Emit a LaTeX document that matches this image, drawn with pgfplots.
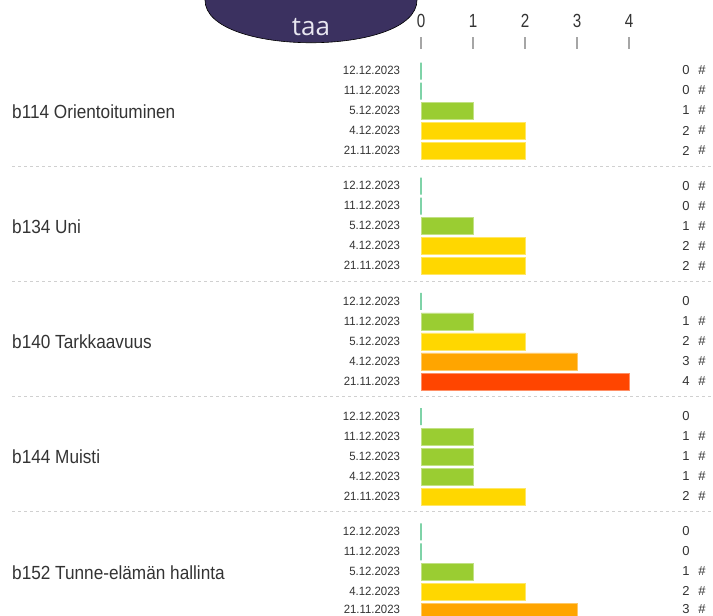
\documentclass[border=0pt]{standalone}
\usepackage{pgfplots}
\pgfplotsset{compat=1.18}
\usepackage{fontspec}
\setmainfont{Liberation Sans}
\newfontfamily\osans{Open Sans}
\definecolor{txt}{HTML}{333333}
\definecolor{zerocol}{HTML}{7FD3A8}
\definecolor{c1}{HTML}{9ACD32}
\definecolor{c2}{HTML}{FFD700}
\definecolor{c3}{HTML}{FFA500}
\definecolor{c4}{HTML}{FF4500}
\definecolor{blob}{HTML}{3B3160}
\definecolor{sep}{HTML}{D0D0D0}
\tikzset{
  datelbl/.style={anchor=east, font=\fontsize{12}{12}\selectfont, text=txt, xscale=0.95, inner sep=0pt},
  catlbl/.style={anchor=west, font=\fontsize{19}{19}\selectfont, text=txt, xscale=0.905, inner sep=0pt},
  vallbl/.style={anchor=east, font=\fontsize{13}{13}\selectfont, text=txt, inner sep=0pt},
  hashlbl/.style={anchor=west, font=\fontsize{13}{13}\selectfont, text=txt, inner sep=0pt},
  ticklbl/.style={anchor=center, font=\fontsize{19}{19}\selectfont, text=txt, xscale=0.8, inner sep=0pt},
}
\begin{document}
\begin{tikzpicture}
\begin{axis}[
  at={(0,0)}, anchor=south west,
  scale only axis, width=713pt, height=616pt,
  xmin=-8.096, xmax=5.615, ymin=0, ymax=616, y dir=reverse,
  axis lines=none, clip=true,
  xbar, bar width=17pt, bar shift=0pt,
]
% value 0
\addplot[draw=zerocol, line width=2pt, fill=none] coordinates {
 (0,71) (0,91) (0,186.2) (0,206.2) (0,301.4) (0,416.6) (0,531.8) (0,551.8)};
% value 1
\addplot[fill=c1, draw=c1!60!white, line width=0.8pt] coordinates {
 (1,111) (1,226.2) (1,321.4) (1,436.6) (1,456.6) (1,476.6) (1,571.8)};
% value 2
\addplot[fill=c2, draw=c2!60!white, line width=0.8pt] coordinates {
 (2,131) (2,151) (2,246.2) (2,266.2) (2,341.4) (2,496.6) (2,591.8)};
% value 3
\addplot[fill=c3, draw=c3!60!white, line width=0.8pt] coordinates {
 (3,361.4) (3,611.8)};
% value 4
\addplot[fill=c4, draw=c4!60!white, line width=0.8pt] coordinates {
 (4,381.4)};

% dark blob at top
\filldraw[fill=blob, draw=black, line width=0.6pt]
  (axis cs:-4.154,-10) -- (axis cs:-4.154,0)
  .. controls (axis cs:-4.154,57) and (axis cs:-0.077,57) .. (axis cs:-0.077,0)
  -- (axis cs:-0.077,-10) -- cycle;
\node[text={rgb,255:red,232;green,230;blue,240}, font=\osans\fontsize{26}{26}\selectfont, anchor=base] at (axis cs:-2.115,35) {taa};

% top ticks
\foreach \t in {0,1,2,3,4}{
  \edef\tmp{\noexpand\node[ticklbl] at (axis cs:\t,21) {\t};
  \noexpand\draw[gray!70, line width=1.1pt] (axis cs:\t,37) -- (axis cs:\t,49);}
  \tmp
}

% separators
\foreach \s in {166,281.2,396.4,511.6}{
  \edef\tmp{\noexpand\draw[sep, dashed, dash pattern=on 3pt off 3pt, line width=0.9pt] (axis cs:-7.865,\s) -- (axis cs:5.62,\s);}
  \tmp
}

% date labels
\foreach \g in {0,...,4}{
  \foreach \d [count=\r from 0] in {12.12.2023,11.12.2023,5.12.2023,4.12.2023,21.11.2023}{
    \pgfmathsetmacro\yy{min(70.5+115.2*\g+20*\r,609.3)}
    \edef\tmp{\noexpand\node[datelbl] at (axis cs:-0.40,\yy) {\d};}
    \tmp
  }
}

% category labels
\node[catlbl] at (axis cs:-7.865,111.5) {b114 Orientoituminen};
\node[catlbl] at (axis cs:-7.865,226.7) {b134 Uni};
\node[catlbl] at (axis cs:-7.865,341.9) {b140 Tarkkaavuus};
\node[catlbl] at (axis cs:-7.865,457.1) {b144 Muisti};
\node[catlbl] at (axis cs:-7.865,572.3) {b152 Tunne-elämän hallinta};

% value labels (digit) and hash marks
\foreach \yy/\v/\h in {70.5/0/1,90.5/0/1,110.5/1/1,130.5/2/1,150.5/2/1,
  185.7/0/1,205.7/0/1,225.7/1/1,245.7/2/1,265.7/2/1,
  300.9/0/0,320.9/1/1,340.9/2/1,360.9/3/1,380.9/4/1,
  416.1/0/0,436.1/1/1,456.1/1/1,476.1/1/1,496.1/2/1,
  531.3/0/0,551.3/0/0,571.3/1/1,591.3/2/1,609.0/3/1}{
  \edef\tmp{\noexpand\node[vallbl] at (axis cs:5.17,\yy) {\v};}
  \tmp
  \ifnum\h=1
    \edef\tmp{\noexpand\node[hashlbl] at (axis cs:5.33,\yy) {\noexpand\#};}
    \tmp
  \fi
}
\end{axis}
\pgfresetboundingbox
\path (0,0) rectangle (713pt,616pt);
\end{tikzpicture}
\end{document}
